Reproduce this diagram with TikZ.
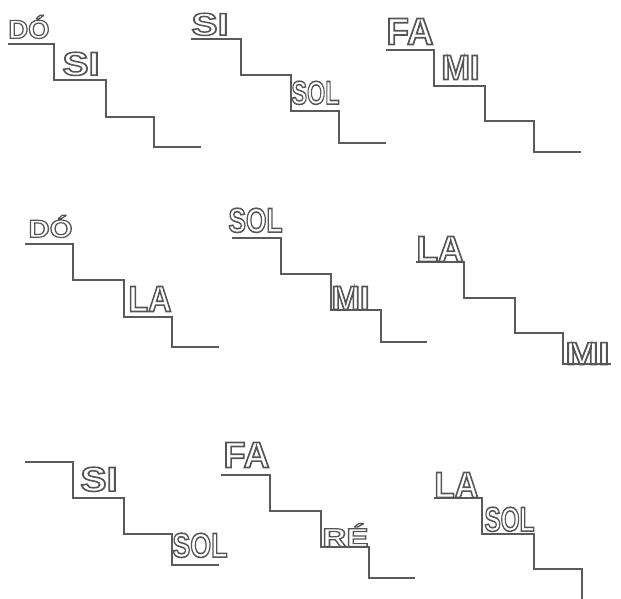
\documentclass[tikz,border=0pt]{standalone}
\usepackage{fontspec}
\setmainfont{Liberation Sans}
\definecolor{linegray}{HTML}{5A5A5A}
\definecolor{textgray}{HTML}{555555}
\newcommand\outl[1]{{\fontsize{30}{30}\selectfont\bfseries\color{textgray}\special{pdf:literal direct 1 Tr 1.4 w}#1\special{pdf:literal direct 0 Tr 1 w}}}
% \lab{name}{x}{ybase}{w}{h}{text}
\newcommand\lab[6]{\node[lab] (#1) at (#2,#3) {\resizebox{#4pt}{#5pt}{\outl{#6}}};}
\newcommand\stair[9]{\draw[stairline] (#1,#6) -| (#2,#7) -| (#3,#8) -| (#4,#9) -- (#5,#9);}
\begin{document}
\begin{tikzpicture}[x=1pt,y=-1pt,
  stairline/.style={draw=linegray,line width=1.2pt},
  lab/.style={inner sep=0pt,outer sep=0pt,anchor=south west}]
\useasboundingbox (0,0) rectangle (621,599);
\begin{scope}
\clip (0,0) rectangle (621,599);
\stair{8}{54}{106}{154}{201}{44}{80}{117}{147}
\stair{191}{241}{291}{339}{386}{39}{75}{111}{143}
\stair{386}{434}{485}{534}{581}{50}{86}{121}{152}
\stair{25}{73}{124}{172}{219}{244}{280}{317}{347}
\stair{232}{281}{331}{381}{427}{238}{274}{310}{342}
\stair{416}{464}{515}{563}{611}{262}{298}{333}{364}
\stair{25}{73}{124}{172}{219}{462}{498}{534}{565}
\stair{221}{270}{321}{369}{415}{475}{511}{547}{578}
\stair{434}{482}{534}{582}{630}{498}{534}{569}{615}
\end{scope}
% row 1
\lab{do1}{8.5}{38.5}{41}{23}{DÓ}
\lab{si1}{62.5}{75.5}{37}{23}{SI}
\lab{si2}{191.5}{35.5}{37}{22}{SI}
\lab{sol2}{291.5}{104.5}{48}{23}{SOL}
\lab{fa3}{386.5}{44.5}{47}{26}{FA}
\lab{mi3}{441.5}{79.5}{38}{24}{MI}
% row 2
\lab{do4}{28.5}{237.5}{44}{22}{DÓ}
\lab{la4}{128.5}{311.5}{43}{25}{LA}
\lab{sol5}{228.5}{232.5}{54}{24}{SOL}
\lab{mi5}{331.5}{309.5}{38}{23}{MI}
\lab{la6}{416.5}{261.5}{47}{25}{LA}
\lab{mi6}{565.5}{364.5}{44}{22}{MI}
% row 3
\lab{si7}{80.5}{491.5}{37}{24}{SI}
\lab{sol7}{172.5}{557.5}{55}{24}{SOL}
\lab{fa8}{223.5}{467.5}{46}{25}{FA}
\lab{re8}{322.5}{546.5}{46}{23}{RÉ}
\lab{la9}{434.5}{497.5}{44}{25}{LA}
\lab{sol9}{484.5}{531.5}{50}{24}{SOL}
\end{tikzpicture}
\end{document}
